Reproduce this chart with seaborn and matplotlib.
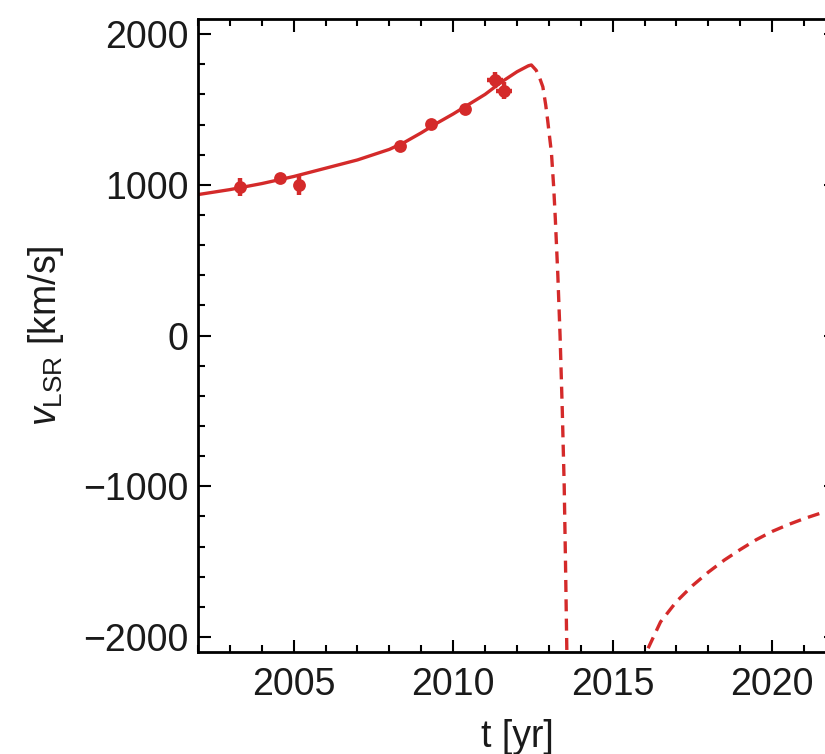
import matplotlib
matplotlib.use("Agg")
import matplotlib.pyplot as plt
import seaborn as sns
import numpy as np
import pandas as pd
from matplotlib.ticker import MultipleLocator

# ---- data ----
obs_t = [2003.31, 2004.56, 2005.16, 2008.32, 2009.31, 2010.36, 2011.30, 2011.60]
obs_v = [987, 1043, 998, 1255, 1405, 1500, 1695, 1625]
obs_verr = [60, 35, 65, 30, 30, 30, 55, 55]
obs_terr = [0.12, 0.12, 0.12, 0.12, 0.12, 0.12, 0.25, 0.25]

fit_t = [2002.0, 2003.0, 2004.0, 2005.0, 2006.0, 2007.0, 2008.0, 2008.5,
         2009.0, 2009.5, 2010.0, 2011.0, 2011.5, 2012.0, 2012.36]
fit_v = [935, 968, 1008, 1055, 1110, 1165, 1235, 1285, 1345, 1410, 1470,
         1600, 1680, 1750, 1790]

pred1_t = [2012.36, 2012.45, 2012.6, 2012.7, 2012.81, 2012.9, 2012.96, 2013.02,
           2013.08, 2013.15, 2013.2, 2013.28, 2013.35, 2013.42, 2013.48, 2013.52,
           2013.57]
pred1_v = [1790, 1795, 1760, 1715, 1650, 1530, 1430, 1320, 1211, 985, 780, 400,
           0, -500, -1000, -1500, -2200]

pred2_t = [2015.97, 2016.1, 2016.5, 2017.0, 2017.5, 2018.0, 2018.5, 2019.0,
           2019.5, 2020.0, 2020.5, 2021.0, 2021.5, 2022.0]
pred2_v = [-2200, -2080, -1900, -1765, -1660, -1570, -1490, -1420, -1355,
           -1300, -1255, -1215, -1180, -1150]

xticks = [2005, 2010, 2015, 2020]
yticks = [-2000, -1000, 0, 1000, 2000]

RED = "#d42a2a"

sns.set_style("ticks")
plt.rcParams["font.family"] = ["Liberation Sans", "DejaVu Sans"]
plt.rcParams["mathtext.fontset"] = "custom"
plt.rcParams["mathtext.rm"] = "Liberation Sans"
plt.rcParams["mathtext.it"] = "Liberation Sans:italic"

fig = plt.figure(figsize=(8.25, 7.54), dpi=100)
ax = fig.add_axes([198 / 825, (754 - 652) / 754, 638 / 825, (652 - 19) / 754])

fit_df = pd.DataFrame({"t": fit_t, "v": fit_v})
p1_df = pd.DataFrame({"t": pred1_t, "v": pred1_v})
p2_df = pd.DataFrame({"t": pred2_t, "v": pred2_v})

sns.lineplot(data=fit_df, x="t", y="v", ax=ax, color=RED, lw=2.4,
             sort=False, estimator=None)
sns.lineplot(data=p1_df, x="t", y="v", ax=ax, color=RED, lw=2.4,
             sort=False, estimator=None, dashes=False, linestyle=(0, (3.6, 2.2)))
sns.lineplot(data=p2_df, x="t", y="v", ax=ax, color=RED, lw=2.4,
             sort=False, estimator=None, dashes=False, linestyle=(0, (3.6, 2.2)))

ax.errorbar(obs_t, obs_v, yerr=obs_verr, xerr=obs_terr, fmt="none",
            ecolor=RED, elinewidth=3.2, capsize=0)
sns.scatterplot(x=obs_t, y=obs_v, ax=ax, color=RED, s=85, edgecolor=RED,
                linewidth=0, zorder=5)

ax.set_xlim(2002, 2022)
ax.set_ylim(-2100, 2100)
ax.set_xticks(xticks)
ax.set_yticks(yticks)
ax.xaxis.set_minor_locator(MultipleLocator(1))
ax.yaxis.set_minor_locator(MultipleLocator(200))

ax.tick_params(which="both", direction="in", top=True, right=True,
               width=1.5, color="black", labelsize=27, labelcolor="#1a1a1a")
ax.tick_params(which="major", length=9)
ax.tick_params(which="minor", length=5)
ax.tick_params(axis="x", which="major", pad=11)
ax.tick_params(axis="y", which="major", pad=7)
for s in ax.spines.values():
    s.set_linewidth(2)
    s.set_color("black")

ax.set_xlabel("t [yr]", fontsize=27, color="#1a1a1a", labelpad=11)
ax.set_ylabel(r"$v_{\rm LSR}$ [km/s]", fontsize=27, color="#1a1a1a", labelpad=12)

fig.savefig("out.png", dpi=100)
